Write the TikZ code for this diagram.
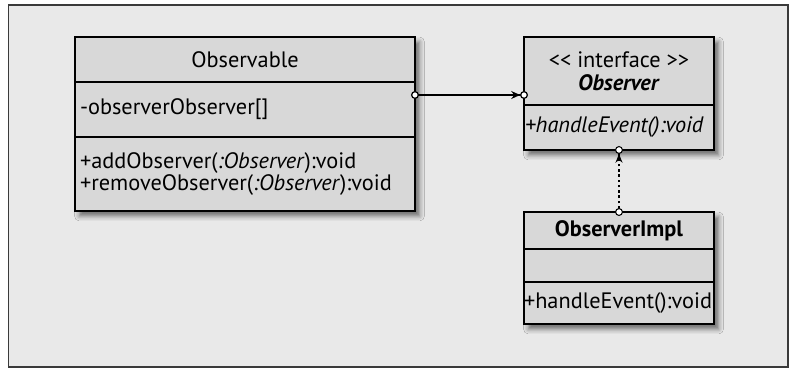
\documentclass[tikz,border=0pt]{standalone}
\usepackage{fontspec}
\setmainfont{PT Sans}
\usetikzlibrary{positioning, arrows.meta, fit, backgrounds, shadows.blur}

\definecolor{framegray}{HTML}{E9E9E9}
\definecolor{boxgray}{HTML}{D8D8D8}
\definecolor{edgegray}{HTML}{3A3A3A}

\tikzset{
    compart/.style={rectangle, draw=black, line width=1pt, fill=boxgray,
        inner sep=0pt, outer sep=0pt, align=center},
    leftpart/.style={compart, align=left},
    shadowbox/.style={rectangle, inner sep=0pt, fill=boxgray,
        blur shadow={shadow xshift=0.09cm, shadow yshift=-0.1cm,
            shadow blur radius=0.1cm, shadow opacity=55}},
    assoc/.style={line width=1pt,
        {Circle[fill=white, length=4.5pt, line width=0.7pt]}-{Stealth[length=5pt, width=4.5pt]Circle[fill=white, length=4.5pt, line width=0.7pt]},
        shorten <=-2.25pt, shorten >=-2.25pt},
    realize/.style={line width=0.6pt, dash pattern=on 1.5pt off 1.5pt,
        {Circle[fill=white, length=4.5pt]}-{Stealth[length=5pt, width=4pt]Circle[fill=white, length=4.5pt]},
        shorten <=-2.25pt, shorten >=-2.25pt}
}

\begin{document}
\begin{tikzpicture}[x=0.02cm, y=-0.02cm, node distance=0pt,
    every node/.style={font=\fontsize{12.7}{13}\selectfont}]
    \useasboundingbox (0,0) rectangle (795,368);

    % Observable
    \node[compart, minimum width=6.8cm, minimum height=0.9cm] (obsname) at (245,59.5) {Observable};
    \node[leftpart, below=of obsname, minimum width=6.8cm, minimum height=1.1cm,
        text width=6.6cm] (obsattr) {-observerObserver[]};
    \node[leftpart, below=of obsattr, minimum width=6.8cm, minimum height=1.48cm,
        text width=6.6cm] (obsops) {+addObserver(\textit{:Observer}):void\\
        +removeObserver(\textit{:Observer}):void};

    % interface
    \node[compart, minimum width=3.8cm, minimum height=1.36cm] (ifacename) at (619,71)
        {<\kern0pt< interface >\kern0pt>\\\textbf{\textit{Observer}}};
    \node[leftpart, below=of ifacename, minimum width=3.8cm, minimum height=0.9cm,
        text width=3.76cm] (ifaceops) {\textit{+handleEvent():void}};

    % implementation
    \node[compart, minimum width=3.8cm, minimum height=0.74cm] (implname) at (619,230.5)
        {\textbf{ObserverImpl}};
    \node[compart, below=of implname, minimum width=3.8cm, minimum height=0.66cm] (implattr) {};
    \node[leftpart, below=of implattr, minimum width=3.8cm, minimum height=0.84cm,
        text width=3.8cm] (implops) {+handleEvent():void};

    \begin{scope}[on background layer]
        \draw[fill=framegray, draw=edgegray, line width=0.8pt] (8.5,5) rectangle (788,367);
        \node[shadowbox, fit=(obsname)(obsops)] {};
        \node[shadowbox, fit=(ifacename)(ifaceops)] {};
        \node[shadowbox, fit=(implname)(implops)] {};
    \end{scope}

    \coordinate (linky) at ([yshift=0.2cm]ifacename.south west);
    \draw[assoc] (obsattr.east |- linky) -- (linky);
    \draw[realize] (implname.north) -- (ifaceops.south);
\end{tikzpicture}
\end{document}
